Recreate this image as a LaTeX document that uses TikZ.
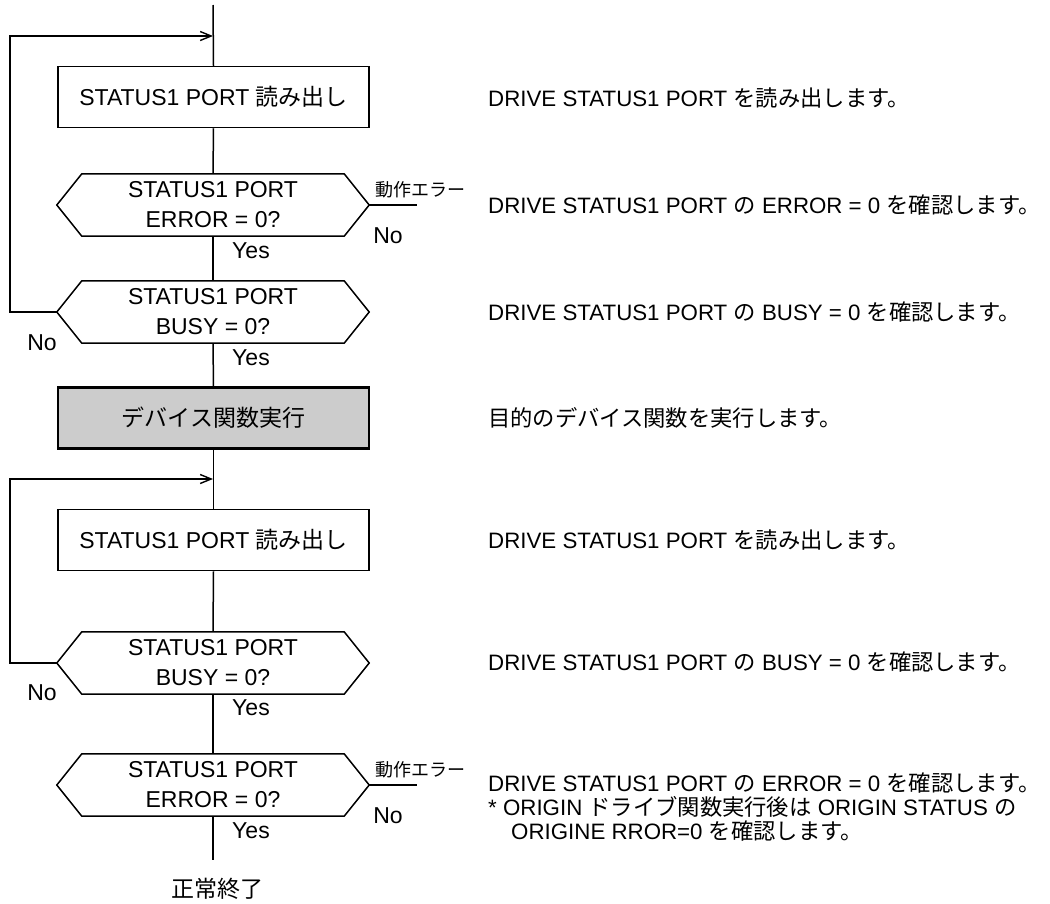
\documentclass[tikz,border=0pt]{standalone}
\usepackage{fontspec}
\setmainfont{Liberation Sans}
\newfontfamily\jp{Noto Sans CJK JP}
\usetikzlibrary{arrows.meta}
\definecolor{boxgray}{HTML}{CCCCCC}
\newcommand\hexshape[1]{\draw[ln] (#1.west) -- ([xshift=25pt]#1.north west) -- ([xshift=-25pt]#1.north east) -- (#1.east) -- ([xshift=-25pt]#1.south east) -- ([xshift=25pt]#1.south west) -- cycle;}
\begin{document}
\begin{tikzpicture}[x=1pt,y=-1pt,
  ln/.style={line width=1.5pt},
  arr/.style={line width=1.5pt,-{Straight Barb[length=11pt,width=9pt,line width=1.4pt]}},
  proc/.style={draw,line width=1.5pt,minimum width=311pt,minimum height=61pt,inner sep=0pt,
    text height=16.5pt,text depth=0pt,font=\fontsize{23}{27}\selectfont},
  dec/.style={minimum width=312pt,minimum height=62pt,inner sep=0pt,align=center,
    font=\fontsize{23}{30}\selectfont},
  lbl/.style={inner sep=0pt,anchor=base,font=\fontsize{23}{27}\selectfont},
  errl/.style={inner sep=0pt,anchor=base west,font=\fontsize{18}{20}\selectfont\jp},
  desc/.style={inner sep=0pt,anchor=base west,font=\fontsize{22.3}{27}\selectfont}]
\useasboundingbox (0,0) rectangle (1050,903);
% nodes
\node[proc] (b1) at (213.5,97) {STATUS1 PORT {\jp 読み出し}};
\node[dec] (d1) at (213,205) {STATUS1 PORT\\ERROR = 0?};
\node[dec] (d2) at (213,312) {STATUS1 PORT\\BUSY = 0?};
\node[proc,fill=boxgray,line width=2.6pt] (g) at (213.5,418) {\jp デバイス関数実行};
\node[proc] (b2) at (213.5,540) {STATUS1 PORT {\jp 読み出し}};
\node[dec] (d3) at (213,663) {STATUS1 PORT\\BUSY = 0?};
\node[dec] (d4) at (213,785) {STATUS1 PORT\\ERROR = 0?};
\hexshape{d1}\hexshape{d2}\hexshape{d3}\hexshape{d4}
% connectors
\coordinate (top) at (213,5);
\coordinate (j1) at (213,36);
\coordinate (j2) at (213,479);
\coordinate (end) at (213,860);
\coordinate (e1) at (417,205);
\coordinate (e2) at (417,785);
\draw[ln] (top) -- (b1.north);
\draw[ln] (b1.south) -- (d1.north);
\draw[ln] (d1.south) -- (d2.north);
\draw[ln] (d2.south) -- (g.north);
\draw[ln] (g.south) -- (b2.north);
\draw[ln] (b2.south) -- (d3.north);
\draw[ln] (d3.south) -- (d4.north);
\draw[ln] (d4.south) -- (end);
\draw[arr] (d2.west) -- ++(-47,0) |- (j1);
\draw[arr] (d3.west) -- ++(-47,0) |- (j2);
\draw[ln] (d1.east) -- (e1);
\draw[ln] (d4.east) -- (e2);
% labels
\node[errl] (er1) at (375,196) {動作エラー};
\node[lbl] (n1) at (388,243) {No};
\node[lbl] (y1) at (251,258) {Yes};
\node[lbl] (n2) at (42,350) {No};
\node[lbl] (y2) at (251,365) {Yes};
\node[lbl] (n3) at (42,700) {No};
\node[lbl] (y3) at (251,715) {Yes};
\node[errl] (er2) at (375,776) {動作エラー};
\node[lbl] (n4) at (388,823) {No};
\node[lbl] (y4) at (251,838) {Yes};
\node[lbl,font=\fontsize{23}{27}\selectfont\jp] (fin) at (217,897) {正常終了};
% descriptions
\node[desc] (t1) at (488,106) {DRIVE STATUS1 PORT {\jp を読み出します。}};
\node[desc] (t2) at (488,213) {DRIVE STATUS1 PORT {\jp の} ERROR = 0 {\jp を確認します。}};
\node[desc] (t3) at (488,320) {DRIVE STATUS1 PORT {\jp の} BUSY = 0 {\jp を確認します。}};
\node[desc] (t4) at (488,426) {\jp 目的のデバイス関数を実行します。};
\node[desc] (t5) at (488,548) {DRIVE STATUS1 PORT {\jp を読み出します。}};
\node[desc] (t6) at (488,670) {DRIVE STATUS1 PORT {\jp の} BUSY = 0 {\jp を確認します。}};
\node[desc] (t7) at (488,791) {DRIVE STATUS1 PORT {\jp の} ERROR = 0 {\jp を確認します。}};
\node[desc] (t8) at (488,815) {* ORIGIN {\jp ドライブ関数実行後は} ORIGIN STATUS {\jp の}};
\node[desc] (t9) at (511,839) {ORIGINE RROR=0 {\jp を確認します。}};
\end{tikzpicture}
\end{document}
